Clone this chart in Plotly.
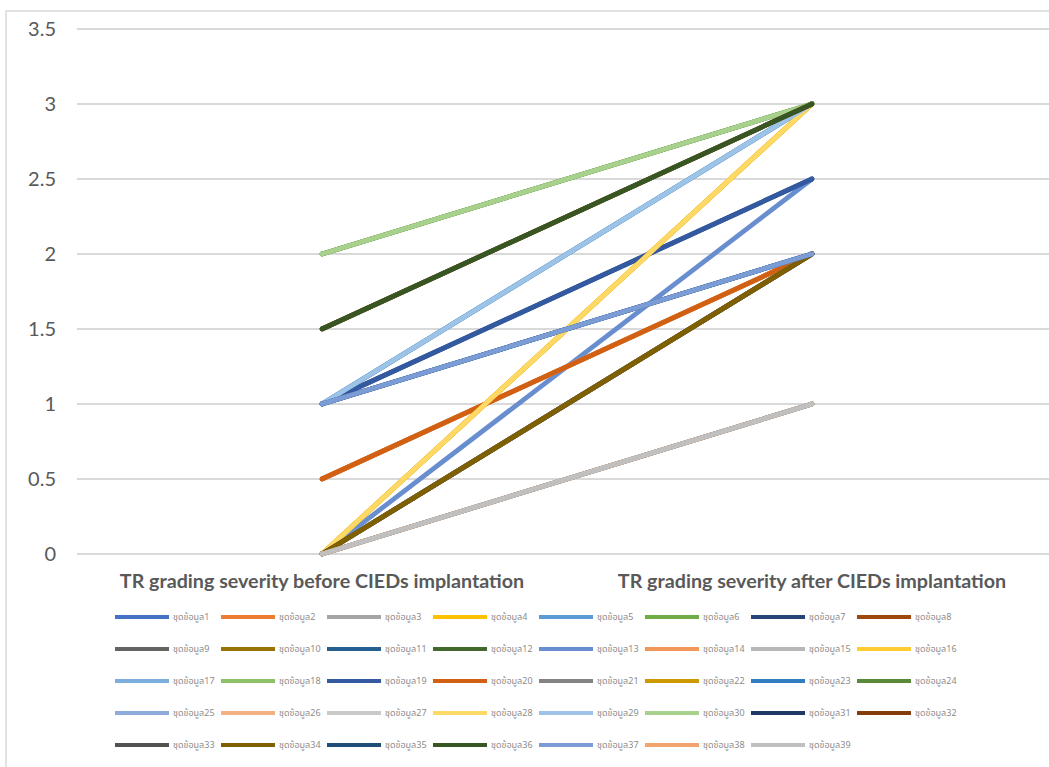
import plotly.graph_objects as go

# TR grading per patient: before / after CIEDs implantation
categories = ["TR grading severity before CIEDs implantation",
              "TR grading severity after CIEDs implantation"]
series_names = ["ชุดข้อมูล%d" % i for i in range(1, 40)]
before = [1, 0, 0, 0, 1, 2, 1, 0.5, 0, 0,
          1, 1.5, 0, 0.5, 0, 0, 1, 2, 1, 0.5,
          0, 0, 1, 2, 1, 0, 0, 0, 1, 2,
          0, 1.5, 0, 0, 1, 1.5, 1, 0, 0]
after = [2, 2, 1, 3, 3, 3, 2.5, 2, 2, 2,
         2, 3, 2.5, 2, 1, 3, 3, 3, 2.5, 2,
         2, 3, 3, 3, 2, 2, 1, 3, 3, 3,
         2, 3, 1, 2, 2, 3, 2, 1, 1]
y_ticks = [0, 0.5, 1, 1.5, 2, 2.5, 3, 3.5]
y_tick_text = ["0", "0.5", "1", "1.5", "2", "2.5", "3", "3.5"]

# Office palette: accents, then shaded variants
colors = ["#4472C4", "#ED7D31", "#A5A5A5", "#FFC000", "#5B9BD5", "#70AD47",
          "#264478", "#9E480E", "#636363", "#997300", "#255E91", "#43682B",
          "#698ED0", "#F1975A", "#B7B7B7", "#FFCD33", "#7CAFDD", "#8CC168",
          "#335AA1", "#D26012", "#848484", "#CC9A00", "#327DC2", "#5A8A39",
          "#8FAADC", "#F4B183", "#C9C9C9", "#FFD966", "#9DC3E6", "#A9D18E",
          "#203864", "#843C0C", "#525252", "#7F6000", "#1F4E79", "#375623",
          "#7C9CD6", "#F2A46F", "#C0C0C0"]

W, H = 1049, 767
ML, MT = 77, 26
PLOT_W = W - ML
Y0, Y1 = -0.04, 3.52
PX_PER_UNIT = 150
PLOT_H = (Y1 - Y0) * PX_PER_UNIT
MB = H - MT - PLOT_H
X0 = -0.5
X1 = X0 + PLOT_W / 490.0


def px_to_paper_x(px):
    return (px - ML) / PLOT_W


def px_to_paper_y(py):
    return (MT + PLOT_H - py) / PLOT_H


fig = go.Figure()
for name, b, a, c in zip(series_names, before, after, colors):
    fig.add_trace(go.Scatter(
        x=[0, 1], y=[b, a], name=name, mode="lines+markers",
        line=dict(color=c, width=4.8),
        marker=dict(color=c, size=4.8),
        cliponaxis=False, showlegend=False, hoverinfo="name+y",
    ))

# Legend grid: 8 entries per row
shapes = []
annotations = []
for i, (name, c) in enumerate(zip(series_names, colors)):
    row, col = divmod(i, 8)
    lx = 115 + 106 * col
    ly = 617 + 32 * row
    shapes.append(dict(type="line", xref="paper", yref="paper",
                       x0=px_to_paper_x(lx), x1=px_to_paper_x(lx + 54),
                       y0=px_to_paper_y(ly), y1=px_to_paper_y(ly),
                       line=dict(color=c, width=4)))
    annotations.append(dict(xref="paper", yref="paper",
                            x=px_to_paper_x(lx + 56), y=px_to_paper_y(ly),
                            xanchor="left", yanchor="middle", showarrow=False,
                            text=name,
                            font=dict(family="Noto Sans Thai, Noto Sans, sans-serif",
                                      size=9, color="#8C8C8C")))

# chart frame
shapes.append(dict(type="path", xref="paper", yref="paper",
                   path="M %f,%f L %f,%f L %f,%f" % (
                       px_to_paper_x(6), px_to_paper_y(800),
                       px_to_paper_x(6), px_to_paper_y(11),
                       px_to_paper_x(1100), px_to_paper_y(11)),
                   line=dict(color="#D9D9D9", width=1.5)))

fig.update_layout(
    width=W, height=H,
    margin=dict(l=ML, r=0, t=MT, b=MB, pad=0),
    paper_bgcolor="white", plot_bgcolor="white",
    showlegend=False,
    shapes=shapes, annotations=annotations,
    font=dict(family="Lato, Liberation Sans, sans-serif", color="#595959"),
)
fig.update_xaxes(
    range=[X0, X1], tickvals=[0, 1],
    ticktext=["<b>%s</b>" % t for t in categories],
    tickfont=dict(size=19.7, color="#595959"),
    showgrid=False, zeroline=False, showline=False, ticks="",
    ticklabelstandoff=7,
)
fig.update_yaxes(
    range=[Y0, Y1], tickvals=y_ticks, ticktext=y_tick_text,
    tickfont=dict(size=20, color="#595959"),
    showgrid=True, gridcolor="#D9D9D9", gridwidth=1.5,
    zeroline=False, showline=False, ticks="",
    ticklabelstandoff=20,
)

fig.write_html("out.html")
